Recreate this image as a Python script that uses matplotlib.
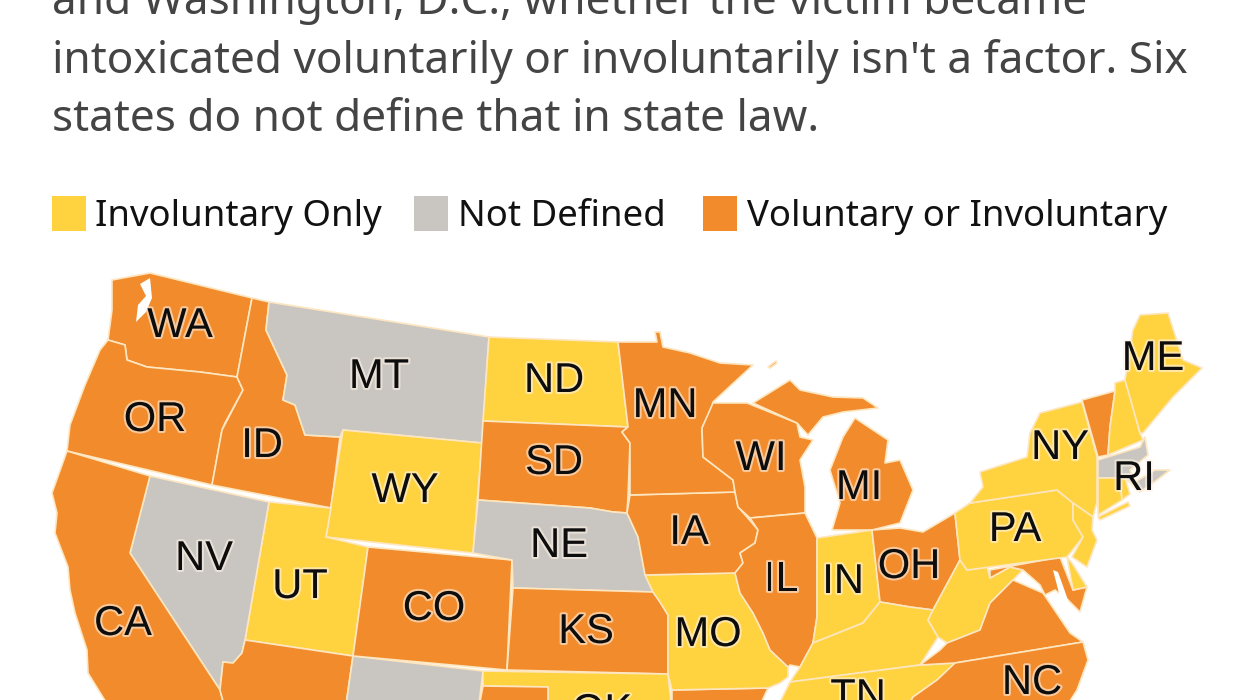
"""
Map of how states treat intoxication, redrawn from a cropped screenshot.
Outlines were read off the picture, in its pixel coordinates.
"""

import matplotlib

matplotlib.use("Agg")
import matplotlib.patheffects as pe
import matplotlib.pyplot as plt
from matplotlib.patches import Polygon, Rectangle

intro_lines = [
    "and Washington, D.C., whether the victim became",
    "intoxicated voluntarily or involuntarily isn't a factor. Six",
    "states do not define that in state law.",
]
legend_names = ["Involuntary Only", "Not Defined", "Voluntary or Involuntary"]
legend_colors = ["#FFD340", "#C9C6C1", "#F18B2C"]

involuntary = ["ND", "WY", "UT", "MO", "OK", "IN", "KY", "TN", "WV", "PA", "NY", "NJ",
               "DE", "CT", "RI", "NH", "ME", "LI"]
not_defined = ["MT", "NV", "NE", "NM", "MA"]
voluntary = ["WA", "OR", "ID", "CA", "AZ", "CO", "SD", "MN", "IA", "KS", "WI", "IL", "MI",
             "MIU", "ISLE", "OH", "VA", "NC", "MD", "VT", "TX", "AR"]

outlines = {
    "WA": [(112, 280), (150, 273), (252, 298), (237, 377), (200, 372), (147, 367), (127, 360),
           (125, 345), (108, 340), (112, 310)],
    "OR": [(108, 340), (125, 345), (127, 360), (147, 367), (200, 372), (237, 377), (243, 390),
           (225, 423), (222, 430), (212, 485), (67, 451), (70, 425), (85, 385), (100, 350)],
    "ID": [(252, 298), (269, 302), (266, 330), (287, 375), (283, 400), (295, 405), (305, 435),
           (340, 437), (331, 508), (212, 485), (222, 430), (243, 390), (237, 377)],
    "MT": [(269, 302), (489, 337), (482, 443), (343, 430), (340, 437), (305, 435), (295, 405),
           (283, 400), (287, 375), (266, 330)],
    "WY": [(343, 430), (482, 443), (473, 553), (326, 537)],
    "UT": [(269, 502), (331, 508), (326, 537), (368, 547), (353, 656), (245, 640)],
    "NV": [(150, 476), (269, 502), (245, 640), (242, 653), (233, 663), (223, 662), (220, 690),
           (130, 553)],
    "CA": [(67, 451), (150, 476), (130, 553), (220, 690), (226, 712), (112, 712), (88, 673),
           (87, 650), (75, 613), (70, 590), (68, 567), (55, 533), (57, 513), (52, 493)],
    "AZ": [(245, 640), (353, 656), (345, 712), (226, 712), (220, 690), (223, 662), (233, 663),
           (242, 653)],
    "NM": [(353, 656), (483, 671), (478, 712), (345, 712)],
    "CO": [(368, 547), (512, 560), (507, 670), (353, 656)],
    "ND": [(489, 337), (618, 342), (628, 427), (483, 421)],
    "SD": [(483, 421), (628, 427), (622, 432), (630, 443), (628, 497), (627, 513), (613, 512),
           (590, 508), (478, 500)],
    "NE": [(478, 500), (590, 508), (613, 512), (627, 513), (638, 537), (645, 573), (653, 592),
           (513, 588), (512, 560), (473, 553)],
    "KS": [(513, 588), (653, 592), (660, 602), (668, 615), (668, 674), (507, 670)],
    "OK": [(483, 671), (668, 674), (672, 712), (548, 712), (548, 687), (483, 686)],
    "TX": [(483, 686), (548, 687), (548, 712), (478, 712)],
    "AR": [(672, 690), (768, 688), (757, 712), (672, 712)],
    "MO": [(645, 575), (735, 573), (740, 593), (753, 613), (763, 633), (770, 650), (788, 667),
           (788, 677), (780, 683), (768, 688), (672, 690), (668, 674), (668, 615), (660, 602),
           (653, 592)],
    "IA": [(630, 495), (735, 492), (738, 507), (747, 517), (758, 530), (755, 543), (740, 553),
           (743, 563), (735, 573), (645, 575), (638, 537), (627, 513)],
    "MN": [(618, 342), (657, 342), (655, 332), (660, 332), (663, 347), (690, 353), (720, 363),
           (753, 365), (713, 402), (712, 407), (702, 428), (703, 457), (733, 480), (735, 492),
           (630, 495), (630, 443), (622, 432), (628, 427)],
    "WI": [(713, 403), (747, 403), (797, 423), (800, 437), (813, 440), (800, 460), (805, 487),
           (805, 513), (750, 518), (738, 507), (735, 492), (733, 480), (703, 457), (702, 428)],
    "MIU": [(753, 403), (790, 380), (800, 390), (833, 397), (863, 398), (878, 408), (843, 412),
            (823, 417), (808, 435), (797, 423)],
    "ISLE": [(768, 367), (776, 361), (777, 363), (770, 368)],
    "MI": [(855, 418), (888, 440), (885, 463), (900, 460), (913, 490), (900, 523), (872, 530),
           (832, 530), (840, 503), (830, 470), (843, 437)],
    "IL": [(750, 518), (805, 513), (817, 538), (817, 617), (813, 643), (800, 667), (790, 665),
           (788, 667), (770, 650), (763, 633), (753, 613), (740, 593), (735, 573), (743, 563),
           (740, 553), (755, 543), (758, 530)],
    "IN": [(817, 538), (872, 530), (880, 602), (863, 623), (813, 643), (817, 617)],
    "OH": [(872, 530), (900, 528), (923, 532), (955, 513), (960, 560), (933, 610), (910, 607),
           (880, 602)],
    "KY": [(813, 643), (863, 623), (880, 602), (910, 607), (933, 610), (928, 620), (938, 637),
           (920, 665), (790, 682), (800, 667)],
    "TN": [(790, 682), (920, 665), (955, 663), (937, 680), (913, 697), (905, 712), (775, 712)],
    "WV": [(960, 560), (967, 570), (987, 567), (990, 578), (1010, 567), (1023, 570), (1013, 580),
           (990, 603), (980, 630), (947, 643), (938, 637), (928, 620), (933, 610)],
    "VA": [(920, 665), (940, 650), (947, 643), (980, 630), (990, 603), (1013, 580), (1043, 593),
           (1070, 633), (1083, 642), (955, 663)],
    "NC": [(955, 663), (1083, 642), (1088, 660), (1077, 690), (1063, 712), (905, 712), (913, 697),
           (937, 680)],
    "MD": [(990, 578), (990, 570), (1060, 557), (1073, 590), (1087, 587), (1080, 612), (1068, 600),
           (1055, 590), (1045, 595), (1040, 585), (1023, 570), (1010, 567)],
    "DE": [(1067, 557), (1072, 563), (1087, 587), (1073, 590)],
    "PA": [(955, 513), (970, 503), (1057, 490), (1073, 503), (1073, 520), (1083, 537), (1067, 557),
           (967, 570), (960, 560)],
    "NY": [(970, 503), (983, 487), (980, 472), (1027, 457), (1030, 433), (1040, 413), (1082, 402),
           (1097, 457), (1097, 502), (1093, 517), (1073, 503), (1057, 490)],
    "LI": [(1098, 517), (1128, 502), (1130, 506), (1100, 520)],
    "NJ": [(1073, 503), (1093, 517), (1092, 530), (1097, 540), (1087, 567), (1072, 557), (1083, 537),
           (1073, 520)],
    "VT": [(1082, 400), (1115, 391), (1110, 427), (1108, 455), (1098, 457)],
    "NH": [(1115, 391), (1115, 383), (1125, 380), (1130, 397), (1140, 433), (1143, 440), (1108, 455),
           (1110, 427)],
    "ME": [(1125, 380), (1133, 330), (1140, 315), (1168, 313), (1183, 360), (1202, 368), (1173, 397),
           (1143, 433), (1140, 433)],
    "MA": [(1098, 460), (1140, 447), (1145, 437), (1148, 455), (1130, 470), (1135, 482), (1155, 470),
           (1170, 470), (1157, 480), (1140, 492), (1125, 478), (1098, 478)],
    "CT": [(1098, 478), (1120, 478), (1122, 500), (1098, 515)],
    "RI": [(1120, 478), (1125, 478), (1130, 494), (1122, 500)],
}

# water cut into the shapes
puget_sound = [(140, 284), (150, 278), (152, 298), (146, 312), (136, 322), (138, 305), (146, 296)]
chesapeake = [(1053, 570), (1058, 572), (1068, 600), (1076, 628), (1070, 630), (1062, 605)]

label_names = ["WA", "MT", "ND", "MN", "ME", "OR", "ID", "WY", "SD", "WI", "NY", "MI", "RI", "PA",
               "NV", "NE", "IA", "OH", "UT", "CO", "IL", "IN", "CA", "KS", "MO", "NC", "TN", "OK"]
label_x = [180, 379, 554, 665, 1153, 155, 262, 405, 554, 761, 1060, 859, 1134, 1015,
           204, 559, 689, 909, 300, 434, 781, 843, 123, 586, 708, 1032, 858, 602]
label_y = [326, 377, 381, 406, 359, 420, 446, 491, 463, 459, 448, 488, 479, 530,
           559, 546, 533, 567, 587, 609, 580, 582, 624, 632, 635, 683, 697, 712]


def state_color(code):
    if code in involuntary:
        return legend_colors[0]
    if code in not_defined:
        return legend_colors[1]
    return legend_colors[2]


fig = plt.figure(figsize=(12.45, 7), dpi=100)
ax = fig.add_axes([0, 0, 1, 1])
ax.set_xlim(0, 1245)
ax.set_ylim(700, 0)
ax.axis("off")

# intro text, top line is cut by the crop
for y, line in zip([14, 73, 131], intro_lines):
    ax.text(52, y, line, fontsize=31.8, color="#444444", family="Noto Sans",
            va="baseline", ha="left")

# legend row
for x, tx, name, color in zip([52, 414, 703], [95, 458, 747], legend_names, legend_colors):
    ax.add_patch(Rectangle((x, 196), 34, 35, facecolor=color, edgecolor="none"))
    ax.text(tx, 226, name, fontsize=26.3, color="#111111", family="Noto Sans",
            va="baseline", ha="left")

for code, outline in outlines.items():
    ax.add_patch(Polygon(outline, closed=True, facecolor=state_color(code),
                         edgecolor="#FDE6C0", linewidth=1.2, joinstyle="round"))

for outline in [puget_sound, chesapeake]:
    ax.add_patch(Polygon(outline, closed=True, facecolor="white", edgecolor="none"))

halo = [pe.withStroke(linewidth=3, foreground="#FFF3E6", alpha=0.6)]
for name, x, y in zip(label_names, label_x, label_y):
    ax.text(x, y, name, fontsize=30, color="#0d0d0d", family="Liberation Sans",
            ha="center", va="center", path_effects=halo)

fig.savefig("out.png", dpi=100, facecolor="white")
